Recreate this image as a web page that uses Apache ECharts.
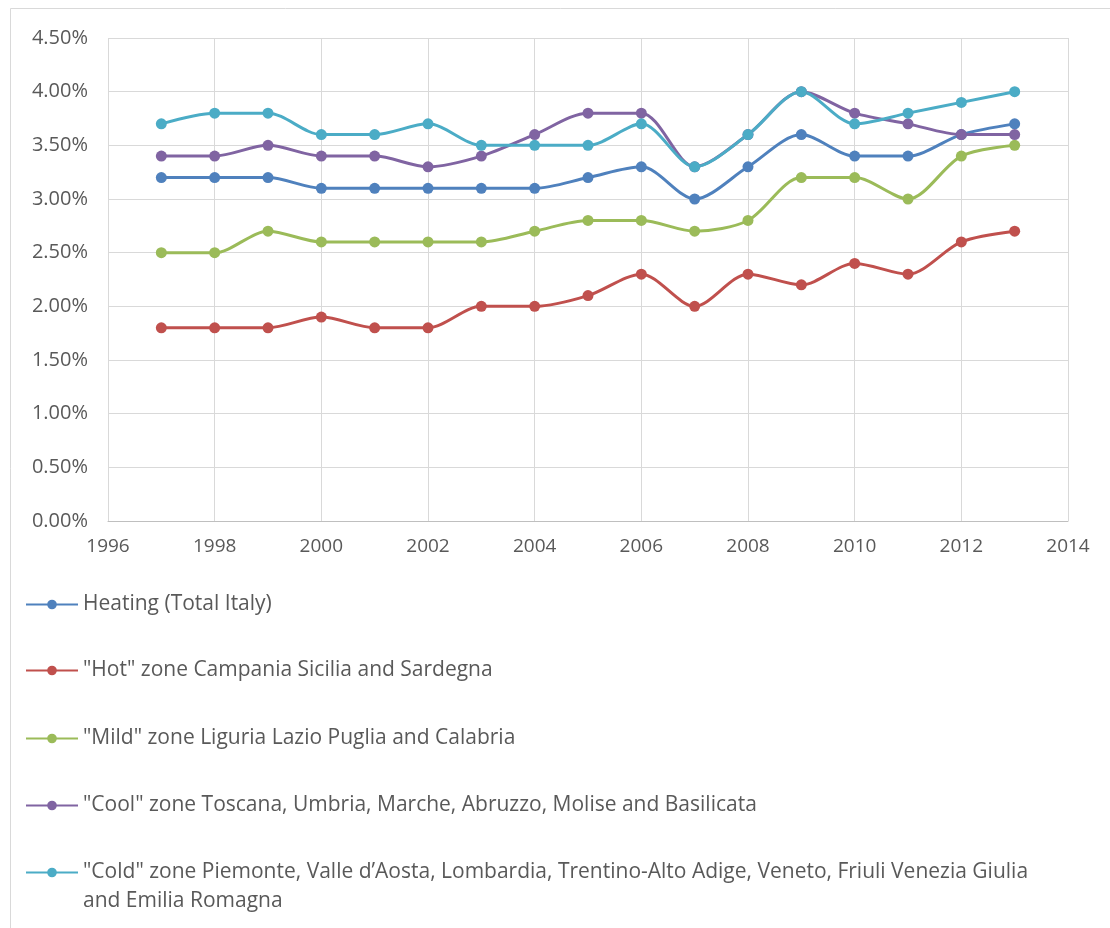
<!DOCTYPE html>
<html>
<head>
<meta charset="utf-8">
<title>Heating share by climate zone</title>
<script src="https://cdn.jsdelivr.net/npm/echarts@6/dist/echarts.min.js"></script>
<style>
  html, body { margin: 0; padding: 0; background: #ffffff; }
  #chart { width: 1110px; height: 928px; }
</style>
</head>
<body>
<div id="chart"></div>
<script>
// Years on the horizontal axis
const years = [1997, 1998, 1999, 2000, 2001, 2002, 2003, 2004, 2005, 2006, 2007, 2008, 2009, 2010, 2011, 2012, 2013];

// Series names (legend text)
const seriesNames = [
  'Heating (Total Italy)',
  '"Hot" zone Campania Sicilia and Sardegna',
  '"Mild" zone Liguria Lazio Puglia and Calabria',
  '"Cool" zone Toscana, Umbria, Marche, Abruzzo, Molise and Basilicata',
  '"Cold" zone Piemonte, Valle d\u2019Aosta, Lombardia, Trentino-Alto Adige, Veneto, Friuli Venezia Giulia and Emilia Romagna'
];

// Values in percent
const heatingTotal = [3.2, 3.2, 3.2, 3.1, 3.1, 3.1, 3.1, 3.1, 3.2, 3.3, 3.0, 3.3, 3.6, 3.4, 3.4, 3.6, 3.7];
const hotZone      = [1.8, 1.8, 1.8, 1.9, 1.8, 1.8, 2.0, 2.0, 2.1, 2.3, 2.0, 2.3, 2.2, 2.4, 2.3, 2.6, 2.7];
const mildZone     = [2.5, 2.5, 2.7, 2.6, 2.6, 2.6, 2.6, 2.7, 2.8, 2.8, 2.7, 2.8, 3.2, 3.2, 3.0, 3.4, 3.5];
const coolZone     = [3.4, 3.4, 3.5, 3.4, 3.4, 3.3, 3.4, 3.6, 3.8, 3.8, 3.3, 3.6, 4.0, 3.8, 3.7, 3.6, 3.6];
const coldZone     = [3.7, 3.8, 3.8, 3.6, 3.6, 3.7, 3.5, 3.5, 3.5, 3.7, 3.3, 3.6, 4.0, 3.7, 3.8, 3.9, 4.0];

const seriesValues = [heatingTotal, hotZone, mildZone, coolZone, coldZone];
const colors = ['#4F81BD', '#C0504D', '#9BBB59', '#8064A2', '#4BACC6'];

const FONT = '"Open Sans", "Noto Sans", sans-serif';
const TEXT_COLOR = '#595959';
const LEGEND_LH = 29;

// One legend block per entry so each row sits on its own line
const legendTops = [585, 651, 719, 786, 824];
const legends = seriesNames.map(function (name, i) {
  const isLast = i === seriesNames.length - 1;
  return {
    orient: 'vertical',
    left: 20,
    top: legendTops[i],
    itemWidth: 52,
    itemHeight: 12,
    data: [name],
    formatter: function (n) {
      // the long entry wraps after "Giulia"; a leading empty line keeps the
      // marker level with the first line of text
      return isLast ? '\n' + n.replace(' and Emilia', '\nand Emilia') : n;
    },
    textStyle: {
      fontFamily: FONT,
      fontSize: 21,
      color: TEXT_COLOR,
      lineHeight: LEGEND_LH
    }
  };
});

const chart = echarts.init(document.getElementById('chart'), null, { renderer: 'canvas' });

chart.setOption({
  backgroundColor: '#ffffff',
  animation: false,
  color: colors,
  graphic: [{
    type: 'rect',
    silent: true,
    shape: { x: 10.5, y: 8.5, width: 1200, height: 1000 },
    style: { fill: 'none', stroke: '#d9d9d9', lineWidth: 1 }
  }],
  legend: legends,
  grid: { left: 108, right: 42, top: 38, bottom: 407, containLabel: false },
  xAxis: {
    type: 'value',
    min: 1996,
    max: 2014,
    interval: 2,
    axisLine: { show: true, lineStyle: { color: '#bfbfbf', width: 1 } },
    axisTick: { show: false },
    splitLine: { show: true, lineStyle: { color: '#d9d9d9', width: 1 } },
    axisLabel: {
      margin: 16,
      fontFamily: FONT,
      fontSize: 19,
      color: TEXT_COLOR,
      formatter: function (v) { return String(v); }
    }
  },
  yAxis: {
    type: 'value',
    min: 0,
    max: 4.5,
    interval: 0.5,
    axisLine: { show: false },
    axisTick: { show: false },
    splitLine: { show: true, lineStyle: { color: '#d9d9d9', width: 1 } },
    axisLabel: {
      margin: 20,
      fontFamily: FONT,
      fontSize: 20,
      color: TEXT_COLOR,
      formatter: function (v) { return v.toFixed(2) + '%'; }
    }
  },
  series: seriesNames.map(function (name, i) {
    return {
      name: name,
      type: 'line',
      smooth: 0.3,
      symbol: 'circle',
      symbolSize: 11,
      lineStyle: { width: 3, color: colors[i] },
      itemStyle: { color: colors[i] },
      data: years.map(function (y, j) { return [y, seriesValues[i][j]]; })
    };
  })
});
</script>
</body>
</html>
